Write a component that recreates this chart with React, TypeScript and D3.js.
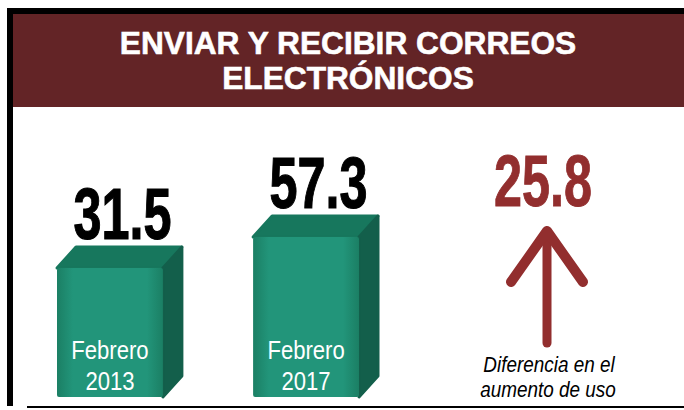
import React from 'react';
import * as d3 from 'd3';

const WIDTH = 684;
const HEIGHT = 410;

const TITLE = ['ENVIAR Y RECIBIR CORREOS', 'ELECTRÓNICOS'];
const periods = ['Febrero 2013', 'Febrero 2017'];
const periodLine1 = ['Febrero', 'Febrero'];
const periodLine2 = ['2013', '2017'];
const values = [31.5, 57.3];
const difference = 25.8;
const diffLabel = ['Diferencia en el', 'aumento de uso'];

const FONT = "'Liberation Sans', Arial, sans-serif";
const MAROON = '#632426';
const RED = '#922e2e';

// fondo de las cajas (el "piso")
const FLOOR = 397;
const DX = 19;
const DY = 21;

// texto angosto: se comprime en x (no hay Arial Narrow instalada)
const Narrow = ({ x, y, k, children, ...rest }: any) => (
  <text transform={`translate(${x},${y}) scale(${k},1)`} textAnchor="middle" {...rest}>
    {children}
  </text>
);

const App = () => {
  const x = d3.scaleBand<string>().domain(periods).range([57, 359]).paddingInner(0.46);
  // escala sin cero visual: las cajas arrancan bajo el piso
  const y = d3.scaleLinear().domain([0, 57.3]).range([306, 237]);

  const arrowX = 547;
  const chevron = d3.line()([
    [arrowX - 36, 282],
    [arrowX, 231],
    [arrowX + 36, 282],
  ]);

  return (
    <svg
      width={WIDTH}
      height={HEIGHT}
      viewBox={`0 0 ${WIDTH} ${HEIGHT}`}
      style={{ position: 'absolute', left: 0, top: 0, background: '#fff' }}
    >
      <defs>
        <linearGradient id="front" x1="0" x2="1" y1="0" y2="0">
          <stop offset="0" stopColor="#1b7f64" />
          <stop offset="0.15" stopColor="#22957a" />
          <stop offset="0.85" stopColor="#22957a" />
          <stop offset="1" stopColor="#1b7f64" />
        </linearGradient>
      </defs>

      {/* marco */}
      <rect x={7} y={8} width={WIDTH - 7} height={6} fill="#000" />
      <rect x={7} y={8} width={6} height={398} fill="#000" />
      <rect x={13} y={14} width={WIDTH - 13} height={93} fill={MAROON} />
      <line x1={27} x2={WIDTH} y1={407} y2={407} stroke="#000" strokeWidth={2} />

      <g fontFamily={FONT} fontWeight="bold" fill="#fff" stroke="#fff" strokeWidth={0.6} fontSize={32}>
        <Narrow x={348} y={54} k={0.99}>{TITLE[0]}</Narrow>
        <Narrow x={348} y={89} k={0.99}>{TITLE[1]}</Narrow>
      </g>

      {periods.map((p, i) => {
        const x0 = x(p) as number;
        const w = x.bandwidth();
        const top = y(values[i]);
        const cx = x0 + (w + DX) / 2;
        return (
          <g key={p}>
            {/* cara superior */}
            <path
              d={`M${x0},${top} L${x0 + DX},${top - DY} L${x0 + w + DX},${top - DY} L${x0 + w},${top} Z`}
              fill="#17775d"
              stroke="#17775d"
              strokeLinejoin="round"
              strokeWidth={3}
            />
            {/* cara lateral */}
            <path
              d={`M${x0 + w},${top} L${x0 + w + DX},${top - DY} L${x0 + w + DX},${FLOOR - DY} L${x0 + w},${FLOOR} Z`}
              fill="#135f4b"
              stroke="#135f4b"
              strokeLinejoin="round"
              strokeWidth={3}
            />
            {/* cara frontal */}
            <rect x={x0} y={top} width={w} height={FLOOR - top} fill="url(#front)" rx={2} />
            <Narrow
              x={cx + 3}
              y={top - DY - 8}
              k={0.7}
              fontFamily={FONT}
              fontWeight="bold"
              fontSize={72}
              fill="#000"
              stroke="#000"
              strokeWidth={1.2}
            >
              {values[i].toFixed(1)}
            </Narrow>
            <g fontFamily={FONT} fontSize={26} fill="#fff">
              <Narrow x={x0 + w / 2} y={359} k={0.85}>{periodLine1[i]}</Narrow>
              <Narrow x={x0 + w / 2} y={390} k={0.85}>{periodLine2[i]}</Narrow>
            </g>
          </g>
        );
      })}

      <Narrow
        x={arrowX - 4}
        y={206}
        k={0.7}
        fontFamily={FONT}
        fontWeight="bold"
        fontSize={72}
        fill={RED}
        stroke={RED}
        strokeWidth={1}
      >
        {difference.toFixed(1)}
      </Narrow>
      <line x1={arrowX} x2={arrowX} y1={238} y2={343} stroke={RED} strokeWidth={9} strokeLinecap="round" />
      <path d={chevron || ''} fill="none" stroke={RED} strokeWidth={10} strokeLinecap="round" strokeLinejoin="round" />

      <g fontFamily={FONT} fontStyle="italic" fontSize={22} fill="#000">
        <Narrow x={549} y={372} k={0.86}>{diffLabel[0]}</Narrow>
        <Narrow x={548} y={397} k={0.86}>{diffLabel[1]}</Narrow>
      </g>
    </svg>
  );
};

export default App;
